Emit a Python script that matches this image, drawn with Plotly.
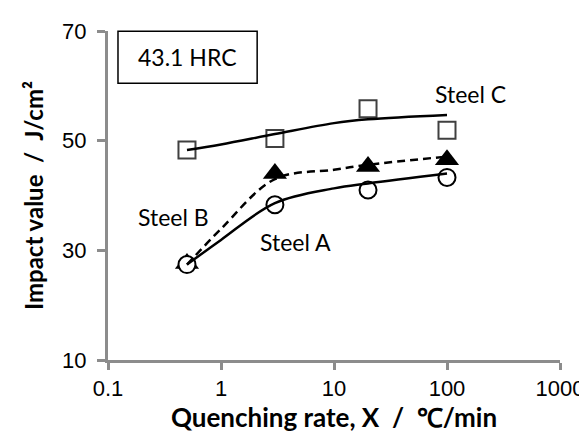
import plotly.graph_objects as go

# measured data points
rates = [0.5, 3, 20, 100]
steel_a = [27.4, 38.3, 41.0, 43.3]
steel_b = [27.6, 44.0, 45.3, 46.5]
steel_c = [48.3, 50.4, 55.8, 51.9]

# fitted curves
fit_x = [0.5, 1, 3, 10, 20, 100]
fit_a = [27.4, 31.9, 38.6, 41.3, 42.2, 44.0]
fit_b = [27.4, 33.9, 43.0, 44.7, 45.6, 47.1]
fit_c = [48.3, 49.3, 51.2, 53.2, 53.9, 54.7]

x_ticks = [0.1, 1, 10, 100, 1000]
x_ticktext = ["0.1", "1", "10", "100", "1000"]
y_ticks = [10, 30, 50, 70]

TXT = "Lato"
AX = "#8c8c8c"

fig = go.Figure()

# markers
fig.add_trace(go.Scatter(x=rates, y=steel_b, mode="markers", cliponaxis=False,
                         marker=dict(symbol="triangle-up", size=21, color="black"),
                         showlegend=False))
fig.add_trace(go.Scatter(x=rates, y=steel_a, mode="markers", cliponaxis=False,
                         marker=dict(symbol="circle", size=17, color="white",
                                     line=dict(color="black", width=2)),
                         showlegend=False))
fig.add_trace(go.Scatter(x=rates, y=steel_c, mode="markers", cliponaxis=False,
                         marker=dict(symbol="square-open", size=17, color="#404040",
                                     line=dict(color="#404040", width=2)),
                         showlegend=False))

# curves
fig.add_trace(go.Scatter(x=fit_x, y=fit_b, mode="lines", line_shape="spline",
                         line=dict(color="black", width=2.5, dash="8px,5px"),
                         showlegend=False))
fig.add_trace(go.Scatter(x=fit_x, y=fit_a, mode="lines", line_shape="spline",
                         line=dict(color="black", width=2.5), showlegend=False))
fig.add_trace(go.Scatter(x=fit_x, y=fit_c, mode="lines", line_shape="spline",
                         line=dict(color="black", width=2.5), showlegend=False))

labels = [
    ("Steel C", 2.209, 58.45),
    ("Steel B", -0.422, 36.0),
    ("Steel A", 0.662, 31.5),
]
for t, lx, ly in labels:
    fig.add_annotation(x=lx, y=ly, xref="x", yref="y", text=t, showarrow=False,
                       font=dict(family=TXT, size=23, color="black"),
                       xanchor="center", yanchor="middle")

# HRC box
fig.add_shape(type="rect", xref="paper", yref="paper",
              x0=0.0221, x1=0.330, y0=0.841, y1=0.999,
              line=dict(color="black", width=1.5), fillcolor="white", layer="above")
fig.add_annotation(x=0.176, y=0.92, xref="paper", yref="paper", text="43.1 HRC",
                   showarrow=False, font=dict(family=TXT, size=23, color="black"),
                   xanchor="center", yanchor="middle")

fig.update_layout(
    width=587, height=432,
    margin=dict(l=100, r=35, t=23, b=80),
    paper_bgcolor="white", plot_bgcolor="white",
    xaxis=dict(type="log", range=[-1, 3], tickvals=x_ticks, ticktext=x_ticktext,
               automargin=False,
               showgrid=False, zeroline=False, showline=True, linecolor=AX,
               linewidth=3, ticks="outside", ticklen=7, tickwidth=3, tickcolor=AX,
               tickfont=dict(family="Liberation Sans", size=22, color="black"),
               title=dict(text="Quenching\u00a0rate,\u00a0X\u00a0\u00a0/\u00a0\u00a0\u2103/min",
                          font=dict(family=TXT, size=26, color="black", weight="bold"),
                          standoff=1)),
    yaxis=dict(range=[10, 70], tickvals=y_ticks, showgrid=False, zeroline=False,
               automargin=False,
               showline=True, linecolor=AX, linewidth=3, ticks="outside",
               ticklen=8, tickwidth=3, tickcolor=AX, ticklabelstandoff=6,
               tickfont=dict(family="Liberation Sans", size=22, color="black"),
               title=dict(text="Impact\u00a0value\u00a0\u00a0/\u00a0\u00a0J/cm\u00b2",
                          font=dict(family=TXT, size=24, color="black", weight="bold"),
                          standoff=12)),
)

fig.write_html("out.html")
